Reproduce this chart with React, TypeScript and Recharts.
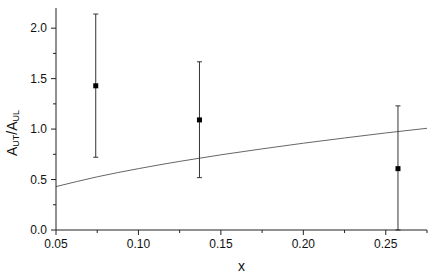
import { ComposedChart, Scatter, Line, XAxis, YAxis, ErrorBar } from 'recharts';

// measured points with y error bars [minus, plus]
const pointX = [0.0741, 0.137, 0.2574];
const pointY = [1.429, 1.091, 0.608];
const errLow = [0.708, 0.572, 0.608];
const errHigh = [0.711, 0.576, 0.622];

// model curve
const curveX = [0.05, 0.075, 0.1, 0.125, 0.15, 0.175, 0.2, 0.225, 0.25, 0.275];
const curveY = [0.43, 0.527, 0.608, 0.68, 0.745, 0.804, 0.86, 0.912, 0.962, 1.008];

const xTicks = [0.05, 0.075, 0.1, 0.125, 0.15, 0.175, 0.2, 0.225, 0.25, 0.275];
const xMajor = [0.05, 0.1, 0.15, 0.2, 0.25];
const yTicks = [0, 0.25, 0.5, 0.75, 1, 1.25, 1.5, 1.75, 2];
const yMajor = [0, 0.5, 1, 1.5, 2];

const points = pointX.map((x, i) => ({ x, y: pointY[i], err: [errLow[i], errHigh[i]] }));
const curve = curveX.map((x, i) => ({ x, y: curveY[i] }));

const FONT = 'Liberation Sans, Arial, sans-serif';
const TICK_SIZE = 5;
const TICK_MARGIN = 4;

const isMajor = (list: number[], v: number) => list.some(m => Math.abs(m - v) < 1e-9);

function XTick(props: any) {
  const { x, y, payload } = props;
  const major = isMajor(xMajor, payload.value);
  const axisY = y - TICK_SIZE - TICK_MARGIN;
  return (
    <g>
      <line x1={x} x2={x} y1={axisY} y2={axisY + (major ? 5 : 3)} stroke="#222" />
      {major && (
        <text x={x} y={axisY + 18} textAnchor="middle" fontSize={12} fontFamily={FONT} fill="#111">
          {payload.value.toFixed(2)}
        </text>
      )}
    </g>
  );
}

function YTick(props: any) {
  const { x, y, payload } = props;
  const major = isMajor(yMajor, payload.value);
  const axisX = x + TICK_SIZE + TICK_MARGIN;
  return (
    <g>
      <line x1={axisX - (major ? 5 : 3)} x2={axisX} y1={y} y2={y} stroke="#222" />
      {major && (
        <text x={axisX - 9} y={y + 4} textAnchor="end" fontSize={12} fontFamily={FONT} fill="#111">
          {payload.value.toFixed(1)}
        </text>
      )}
    </g>
  );
}

function YLabel() {
  return (
    <text transform="rotate(-90, 17, 133)" x={17} y={133} textAnchor="middle" fontSize={14} fontFamily={FONT} fill="#111">
      A<tspan fontSize={9} dy={2}>UT</tspan>
      <tspan dy={-2}>/A</tspan>
      <tspan fontSize={9} dy={2}>UL</tspan>
    </text>
  );
}

const Square = (props: any) => {
  const { cx, cy } = props;
  return <rect x={cx - 2.5} y={cy - 2.5} width={5} height={5} fill="#000" />;
};

export default function App() {
  return (
    <div style={{ position: 'absolute', left: 0, top: 0, background: '#fff' }}>
      <ComposedChart width={436} height={279} margin={{ top: 8, right: 9, bottom: 0, left: 0 }}>
        <XAxis
          type="number"
          dataKey="x"
          domain={[0.05, 0.275]}
          ticks={xTicks}
          interval={0}
          allowDataOverflow
          height={49}
          tickSize={TICK_SIZE}
          tickMargin={TICK_MARGIN}
          tickLine={false}
          tick={<XTick />}
          stroke="#222"
          label={{ value: 'x', position: 'insideBottom', offset: 8, fontSize: 14, fontFamily: FONT, fill: '#111' }}
        />
        <YAxis
          type="number"
          dataKey="y"
          domain={[0, 2.2]}
          ticks={yTicks}
          interval={0}
          allowDataOverflow
          width={56}
          tickSize={TICK_SIZE}
          tickMargin={TICK_MARGIN}
          tickLine={false}
          tick={<YTick />}
          stroke="#222"
          label={{ content: <YLabel /> }}
        />
        <Line
          data={curve}
          dataKey="y"
          type="monotone"
          stroke="#666"
          strokeWidth={1}
          dot={false}
          activeDot={false}
          isAnimationActive={false}
        />
        <Scatter data={points} dataKey="y" shape={<Square />} isAnimationActive={false}>
          <ErrorBar dataKey="err" direction="y" width={2.5} stroke="#333" strokeWidth={1} />
        </Scatter>
      </ComposedChart>
    </div>
  );
}
